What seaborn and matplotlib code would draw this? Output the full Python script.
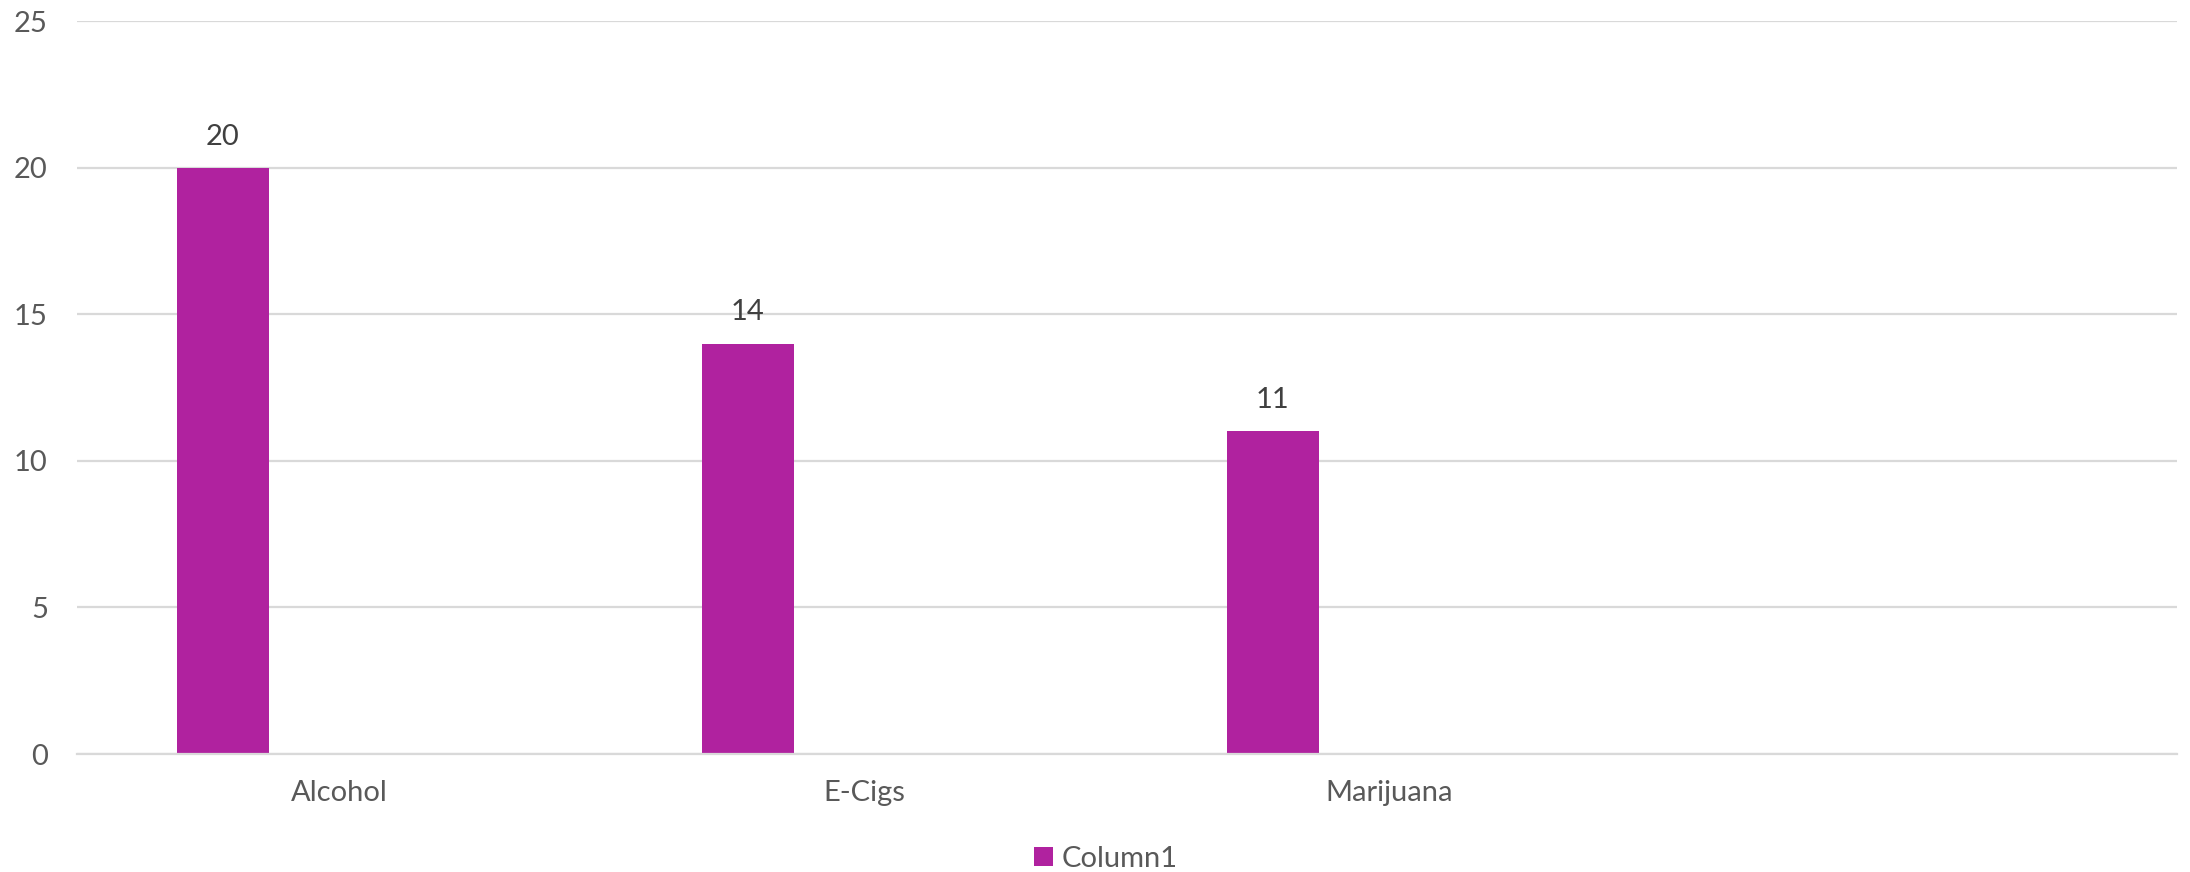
import matplotlib
matplotlib.use("Agg")
import matplotlib.pyplot as plt
import seaborn as sns
import pandas as pd
from matplotlib.patches import Patch

categories = ["Alcohol", "E-Cigs", "Marijuana", ""]
values = [20, 14, 11]
series_name = "Column1"

BAR_COLOR = "#B0229F"
TEXT_COLOR = "#595959"
GRID_COLOR = "#D9D9D9"

sns.set_theme(style="white")
plt.rcParams["font.family"] = ["Lato", "DejaVu Sans"]

fig = plt.figure(figsize=(21.9, 8.72), dpi=100)
ax = fig.add_axes([77 / 2190, 1 - 754 / 872, 2100 / 2190, 733 / 872])

offset = -0.222
df = pd.DataFrame({
    "pos": [i + offset for i in range(len(values))],
    "value": values,
})
sns.barplot(data=df, x="pos", y="value", native_scale=True, width=0.175,
            color=BAR_COLOR, saturation=1, ax=ax, errorbar=None, linewidth=0)

ax.set_xlim(-0.5, len(categories) - 0.5)
ax.set_ylim(0, 25)
ax.set_yticks([0, 5, 10, 15, 20, 25])
ax.set_xticks(range(len(categories)))
ax.set_xticklabels(categories)
ax.set_xlabel("")
ax.set_ylabel("")

ax.yaxis.grid(True, color=GRID_COLOR, linewidth=1.6)
ax.set_axisbelow(True)
for s in ["top", "right", "left"]:
    ax.spines[s].set_visible(False)
ax.spines["bottom"].set_color(GRID_COLOR)
ax.spines["bottom"].set_linewidth(1.6)
ax.tick_params(axis="y", length=0, pad=21, labelsize=21, labelcolor=TEXT_COLOR)
ax.tick_params(axis="x", length=0, pad=19, labelsize=21, labelcolor=TEXT_COLOR)

for p, v in zip(df["pos"], values):
    ax.annotate(f"{v}", (p, v), xytext=(0, 13), textcoords="offset points",
                ha="center", va="bottom", fontsize=21, color="#404040")

handle = Patch(facecolor=BAR_COLOR, edgecolor="none")
fig.legend([handle], [series_name], loc="center", bbox_to_anchor=(0.505, 1 - 859 / 872),
           frameon=False, fontsize=21, labelcolor=TEXT_COLOR,
           handlelength=0.65, handleheight=0.65, handletextpad=0.3)

fig.savefig("out.png", dpi=100)
